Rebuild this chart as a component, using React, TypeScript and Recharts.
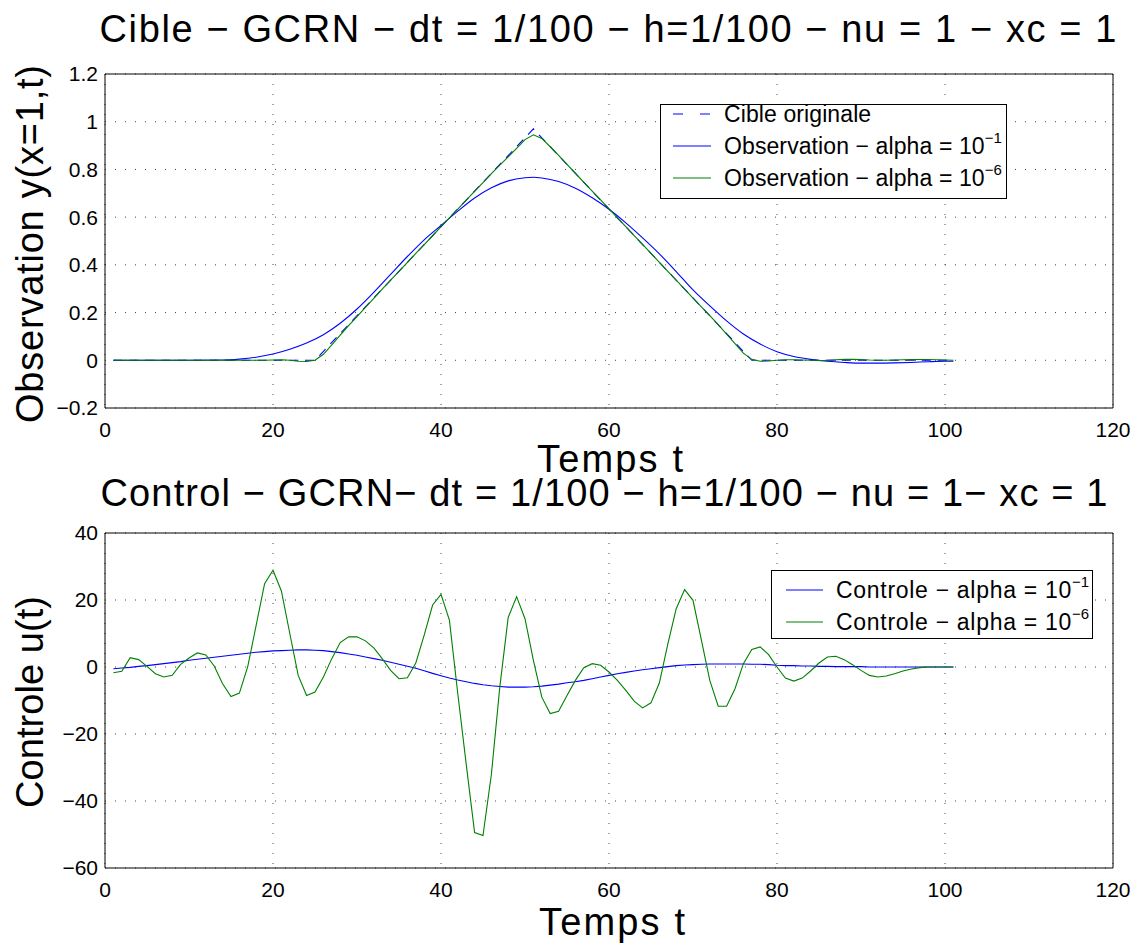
import { LineChart, Line, XAxis, YAxis, CartesianGrid, Legend } from "recharts";

const FONT = '"Liberation Sans", Arial, Helvetica, sans-serif';

const timeSteps = Array.from({ length: 101 }, (_, i) => i + 1);
const xTicks = [0, 20, 40, 60, 80, 100, 120];
const obsTicks = [-0.2, 0, 0.2, 0.4, 0.6, 0.8, 1, 1.2];
const ctrlTicks = [-60, -40, -20, 0, 20, 40];

// cible originale (hat shape, read at its corners)
const cibleT = [1, 25, 51, 77, 101];
const cibleY = [0, 0, 0.97, 0, 0];

// observation alpha = 1e-1 (smooth, read every 2 steps)
const obsAlpha1T = [
    1, 10, 14, 16, 18, 20, 22, 24, 26, 28, 30, 32, 34, 36, 38, 40, 42, 44, 46, 48, 50, 51, 52,
    54, 56, 58, 60, 62, 64, 66, 68, 70, 72, 74, 76, 78, 80, 82, 84, 86, 88, 90, 92, 94, 96, 98,
    100, 101,
];
const obsAlpha1Y = [
    0, 0, 0.001, 0.005, 0.013, 0.026, 0.046, 0.072, 0.107, 0.155, 0.215, 0.285, 0.36, 0.435,
    0.505, 0.565, 0.625, 0.68, 0.723, 0.752, 0.765, 0.767, 0.764, 0.749, 0.721, 0.681, 0.633,
    0.576, 0.513, 0.446, 0.372, 0.295, 0.228, 0.165, 0.11, 0.068, 0.036, 0.016, 0.004, -0.004,
    -0.009, -0.012, -0.012, -0.011, -0.009, -0.006, -0.004, -0.004,
];

// observation alpha = 1e-6, t = 1..101
const obsAlpha6Y = [
    0, 0, 0, 0, 0, 0, 0, 0, 0, 0, 0, 0, 0, 0, 0, 0, 0, 0, 0, 0.001,
    0.002, 0, -0.004, -0.005, 0, 0.025, 0.065, 0.105, 0.145, 0.183,
    0.222, 0.26, 0.298, 0.336, 0.373, 0.41, 0.448, 0.485, 0.522, 0.56,
    0.597, 0.634, 0.671, 0.708, 0.745, 0.782, 0.818, 0.853, 0.888, 0.925,
    0.945, 0.93, 0.895, 0.859, 0.821, 0.784, 0.746, 0.709, 0.672, 0.635,
    0.597, 0.56, 0.523, 0.486, 0.448, 0.41, 0.373, 0.336, 0.298, 0.261,
    0.224, 0.187, 0.149, 0.11, 0.07, 0.03, 0.004, -0.004, -0.003, 0,
    0.002, 0.002, 0.001, 0, -0.001, 0, 0.002, 0.004, 0.004, 0.003,
    0.001, 0, 0, 0.001, 0.002, 0.003, 0.003, 0.003, 0.002, 0.001,
    0,
];

// controle alpha = 1e-1, t = 1..101
const ctrlAlpha1Y = [
    -0.5, -0.3, -0.1, 0.2, 0.4, 0.7, 1.0, 1.3, 1.6, 2.0,
    2.3, 2.6, 2.9, 3.2, 3.5, 3.8, 4.1, 4.4, 4.6, 4.8,
    4.9, 5.0, 5.1, 5.1, 5.0, 4.9, 4.6, 4.3, 3.9, 3.5,
    3.0, 2.5, 2.0, 1.4, 0.8, 0.2, -0.4, -1.1, -1.9, -2.6,
    -3.3, -3.9, -4.4, -4.9, -5.3, -5.6, -5.8, -6.0, -6.0, -6.0,
    -5.9, -5.7, -5.4, -5.1, -4.7, -4.4, -4.0, -3.5, -3.0, -2.5,
    -2.0, -1.6, -1.2, -0.8, -0.5, -0.2, 0.1, 0.4, 0.6, 0.7,
    0.8, 0.9, 0.9, 0.9, 0.9, 0.9, 0.8, 0.8, 0.7, 0.5,
    0.4, 0.4, 0.3, 0.3, 0.2, 0.2, 0.1, 0.1, 0.1, 0.1,
    0, 0, 0, 0, 0, 0, 0, 0, 0, 0,
    0,
];

// controle alpha = 1e-6, t = 1..101
const ctrlAlpha6Y = [
    -1.7, -1.3, 2.8, 2.2, 0.2, -2.0, -3.0, -2.5, 0.8, 2.7,
    4.2, 3.6, 0.3, -5.0, -8.8, -7.8, 0.2, 12.5, 24.9, 28.9,
    22.7, 10.0, -2.5, -8.5, -7.5, -3.0, 2.5, 7.3, 9.0, 9.0,
    7.8, 5.7, 2.5, -1.0, -3.5, -3.2, 1.2, 9.5, 18.5, 21.7,
    14.0, -8.0, -29.0, -49.4, -50.3, -32.0, -6.0, 14.8, 21.0, 14.4,
    2.0, -9.0, -13.9, -13.2, -8.5, -4.0, -0.2, 1.0, 0.5, -1.5,
    -4.0, -7.0, -10.2, -12.2, -10.7, -4.7, 6.8, 17.4, 23.1, 19.9,
    8.0, -4.0, -11.7, -11.7, -6.5, 1.0, 5.2, 6.0, 3.7, 0.0,
    -3.3, -4.2, -3.3, -1.2, 1.2, 3.0, 3.2, 2.2, 0.7, -1.0,
    -2.5, -3.0, -2.7, -2.0, -1.2, -0.6, -0.2, 0, 0, 0,
    0,
];

const toPoints = (ts: number[], ys: number[]) => ts.map((t, i) => ({ t, y: ys[i] }));

const cibleData = toPoints(cibleT, cibleY);
const obsAlpha1Data = toPoints(obsAlpha1T, obsAlpha1Y);
const obsAlpha6Data = toPoints(timeSteps, obsAlpha6Y);
const ctrlAlpha1Data = toPoints(timeSteps, ctrlAlpha1Y);
const ctrlAlpha6Data = toPoints(timeSteps, ctrlAlpha6Y);

const fmt = (v: number) => (v < 0 ? `\u2212${Math.abs(v)}` : `${v}`);

const tickFont = { fill: "#000", fontSize: 21, fontFamily: FONT };

// box with inward ticks on all four sides, like matlab
const frame = (yDomain: number[], yTicks: number[], xHeight: number) => (
    <>
        <XAxis
            xAxisId="x"
            dataKey="t"
            type="number"
            domain={[0, 120]}
            ticks={xTicks}
            interval={0}
            tickLine={false}
            tickSize={0}
            tickMargin={14}
            axisLine={{ stroke: "#000" }}
            tick={tickFont}
            height={xHeight}
        />
        <XAxis
            xAxisId="xb"
            dataKey="t"
            type="number"
            domain={[0, 120]}
            ticks={xTicks}
            interval={0}
            mirror
            tick={false}
            tickSize={9}
            axisLine={false}
            tickLine={{ stroke: "#000" }}
        />
        <XAxis
            xAxisId="xt"
            orientation="top"
            dataKey="t"
            type="number"
            domain={[0, 120]}
            ticks={xTicks}
            interval={0}
            mirror
            tick={false}
            tickSize={9}
            axisLine={{ stroke: "#000" }}
            tickLine={{ stroke: "#000" }}
        />
        <YAxis
            yAxisId="y"
            type="number"
            domain={yDomain}
            ticks={yTicks}
            interval={0}
            tickLine={false}
            tickSize={0}
            tickMargin={7}
            axisLine={{ stroke: "#000" }}
            tick={tickFont}
            tickFormatter={fmt}
            width={105}
        />
        <YAxis
            yAxisId="yl"
            type="number"
            domain={yDomain}
            ticks={yTicks}
            interval={0}
            mirror
            tick={false}
            tickSize={9}
            axisLine={false}
            tickLine={{ stroke: "#000" }}
        />
        <YAxis
            yAxisId="yr"
            orientation="right"
            type="number"
            domain={yDomain}
            ticks={yTicks}
            interval={0}
            mirror
            tick={false}
            tickSize={9}
            axisLine={{ stroke: "#000" }}
            tickLine={{ stroke: "#000" }}
        />
    </>
);

type Row = { label: string; sup?: string; color: string; dash?: string };

const LegendBox = ({
    rows,
    width,
    height,
    rowCenters,
    lineX,
    lineLen,
    textX,
    spacing,
}: {
    rows: Row[];
    width: number;
    height: number;
    rowCenters: number[];
    lineX: number;
    lineLen: number;
    textX: number;
    spacing: number;
}) => (
    <div
        style={{
            position: "relative",
            width,
            height,
            border: "1.5px solid #000",
            background: "#fff",
            boxSizing: "border-box",
            fontFamily: FONT,
            color: "#000",
        }}
    >
        {rows.map((r, i) => (
            <div key={r.label + i}>
                <svg
                    width={lineLen}
                    height={4}
                    style={{ position: "absolute", left: lineX, top: rowCenters[i] - 2 }}
                >
                    <line
                        x1={0}
                        y1={2}
                        x2={lineLen}
                        y2={2}
                        stroke={r.color}
                        strokeWidth={1.2}
                        strokeDasharray={r.dash}
                    />
                </svg>
                <div
                    style={{
                        position: "absolute",
                        left: textX,
                        top: rowCenters[i] - 16,
                        height: 32,
                        lineHeight: "32px",
                        fontSize: 23,
                        letterSpacing: spacing,
                        whiteSpace: "nowrap",
                    }}
                >
                    {r.label}
                    {r.sup && (
                        <span style={{ fontSize: 15, position: "relative", top: -11, letterSpacing: 0 }}>
                            {r.sup}
                        </span>
                    )}
                </div>
            </div>
        ))}
    </div>
);

const obsRows: Row[] = [
    { label: "Cible originale", color: "#0000ff", dash: "10 17" },
    { label: "Observation \u2212 alpha = 10", sup: "\u22121", color: "#0000ff" },
    { label: "Observation \u2212 alpha = 10", sup: "\u22126", color: "#008000" },
];

const ctrlRows: Row[] = [
    { label: "Controle \u2212 alpha = 10", sup: "\u22121", color: "#0000ff" },
    { label: "Controle \u2212 alpha = 10", sup: "\u22126", color: "#008000" },
];

const bigText = { fontFamily: FONT, fontSize: 38, fill: "#000" };

export default function App() {
    return (
        <div
            style={{
                position: "absolute",
                left: 0,
                top: 0,
                width: 1141,
                height: 947,
                background: "#fff",
                overflow: "hidden",
            }}
        >
            <div style={{ position: "absolute", left: 0, top: 0 }}>
                <LineChart width={1141} height={470} margin={{ top: 74, right: 28, bottom: 0, left: 0 }}>
                    <CartesianGrid
                        xAxisId="x"
                        yAxisId="y"
                        stroke="#444"
                        strokeDasharray="1 9"
                    />
                    {frame([-0.2, 1.2], obsTicks, 62)}
                    <Line
                        xAxisId="x"
                        yAxisId="y"
                        data={obsAlpha1Data}
                        dataKey="y"
                        type="monotone"
                        stroke="#0000ff"
                        strokeWidth={1.1}
                        dot={false}
                        isAnimationActive={false}
                    />
                    <Line
                        xAxisId="x"
                        yAxisId="y"
                        data={cibleData}
                        dataKey="y"
                        type="linear"
                        stroke="#0000ff"
                        strokeWidth={1.1}
                        strokeDasharray="9 7"
                        dot={false}
                        isAnimationActive={false}
                    />
                    <Line
                        xAxisId="x"
                        yAxisId="y"
                        data={obsAlpha6Data}
                        dataKey="y"
                        type="linear"
                        stroke="#008000"
                        strokeWidth={1.1}
                        dot={false}
                        isAnimationActive={false}
                    />
                    <Legend
                        layout="vertical"
                        align="center"
                        verticalAlign="middle"
                        wrapperStyle={{ position: "absolute", left: 660, top: 104, width: 347, height: 95 }}
                        content={() => (
                            <LegendBox
                                rows={obsRows}
                                width={347}
                                height={95}
                                rowCenters={[9, 41, 73]}
                                lineX={12}
                                lineLen={38}
                                textX={63}
                                spacing={0.1}
                            />
                        )}
                    />
                </LineChart>
            </div>
            <div style={{ position: "absolute", left: 0, top: 470 }}>
                <LineChart width={1141} height={477} margin={{ top: 63, right: 28, bottom: 0, left: 0 }}>
                    <CartesianGrid
                        xAxisId="x"
                        yAxisId="y"
                        stroke="#444"
                        strokeDasharray="1 9"
                    />
                    {frame([-60, 40], ctrlTicks, 79)}
                    <Line
                        xAxisId="x"
                        yAxisId="y"
                        data={ctrlAlpha1Data}
                        dataKey="y"
                        type="linear"
                        stroke="#0000ff"
                        strokeWidth={1.1}
                        dot={false}
                        isAnimationActive={false}
                    />
                    <Line
                        xAxisId="x"
                        yAxisId="y"
                        data={ctrlAlpha6Data}
                        dataKey="y"
                        type="linear"
                        stroke="#008000"
                        strokeWidth={1.1}
                        dot={false}
                        isAnimationActive={false}
                    />
                    <Legend
                        layout="vertical"
                        align="center"
                        verticalAlign="middle"
                        wrapperStyle={{ position: "absolute", left: 771, top: 100, width: 322, height: 69 }}
                        content={() => (
                            <LegendBox
                                rows={ctrlRows}
                                width={322}
                                height={69}
                                rowCenters={[19, 51]}
                                lineX={14}
                                lineLen={37}
                                textX={64}
                                spacing={0.7}
                            />
                        )}
                    />
                </LineChart>
            </div>
            <svg
                width={1141}
                height={947}
                style={{ position: "absolute", left: 0, top: 0, pointerEvents: "none" }}
            >
                <text x={608} y={42} textAnchor="middle" textLength={1017} lengthAdjust="spacing" {...bigText}>
                    Cible − GCRN − dt = 1/100 − h=1/100 − nu = 1 − xc = 1
                </text>
                <text x={610} y={472} textAnchor="middle" textLength={146} lengthAdjust="spacing" {...bigText}>
                    Temps t
                </text>
                <text x={604} y={506} textAnchor="middle" textLength={1007} lengthAdjust="spacing" {...bigText}>
                    Control − GCRN− dt = 1/100 − h=1/100 − nu = 1− xc = 1
                </text>
                <text x={612} y={935} textAnchor="middle" textLength={146} lengthAdjust="spacing" {...bigText}>
                    Temps t
                </text>
                <text
                    transform="translate(43,244) rotate(-90)"
                    textAnchor="middle"
                    textLength={358}
                    lengthAdjust="spacing"
                    {...bigText}
                >
                    Observation y(x=1,t)
                </text>
                <text
                    transform="translate(43,702) rotate(-90)"
                    textAnchor="middle"
                    textLength={212}
                    lengthAdjust="spacing"
                    {...bigText}
                >
                    Controle u(t)
                </text>
            </svg>
        </div>
    );
}
